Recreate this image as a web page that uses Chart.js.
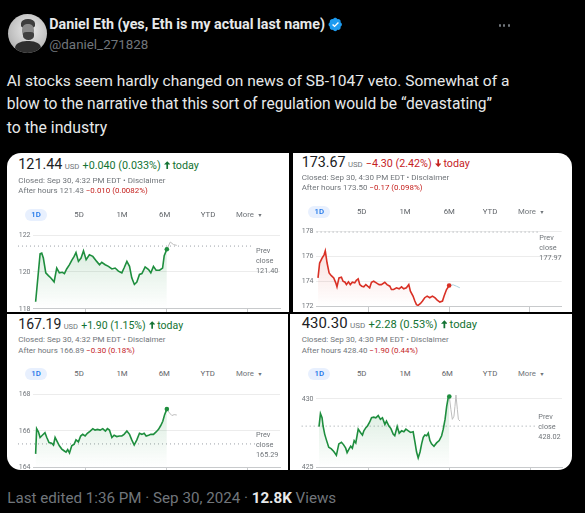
<!DOCTYPE html>
<html><head><meta charset="utf-8">
<script src="https://cdn.jsdelivr.net/npm/chart.js@4.4.1/dist/chart.umd.min.js"></script>
<style>
html,body{margin:0;padding:0;background:#000;}
body{width:585px;height:513px;overflow:hidden;position:relative;}
.t{position:absolute;white-space:nowrap;line-height:1;z-index:3;}
.panel{position:absolute;background:#fff;overflow:hidden;z-index:0;}
.pill{position:absolute;background:#e8f0fe;border-radius:6px;z-index:2;}
.dot{position:absolute;width:2.4px;height:2.4px;border-radius:50%;background:#71767b;}
</style></head><body>

<div style="position:absolute;left:7.5px;top:13.5px;width:39px;height:39px;border-radius:50%;overflow:hidden;background:radial-gradient(circle at 55% 40%,#ececec,#c4c4c4 55%,#9c9c9c);">
  <div style="position:absolute;left:13px;top:5px;width:14px;height:9px;border-radius:50% 50% 30% 30%;background:#3e3e3e"></div>
  <div style="position:absolute;left:14px;top:10px;width:12px;height:15px;border-radius:40% 40% 50% 50%;background:#8a8a8a"></div>
  <div style="position:absolute;left:15px;top:18px;width:11px;height:8px;border-radius:30% 30% 50% 50%;background:#404040"></div>
  <div style="position:absolute;left:7px;top:27px;width:26px;height:16px;border-radius:45% 45% 0 0;background:#2e2e2e"></div>
</div>
<svg style="position:absolute;left:327.5px;top:16.5px" width="15" height="15" viewBox="0 0 22 22"><path fill="#1d9bf0" d="M20.4 11c0-1.4-.8-2.6-2-3.2.4-1.3.1-2.7-.9-3.7s-2.4-1.3-3.7-.9C13.2 2 11.900 1.2 10.6 1.2S8 2 7.4 3.2C6.1 2.8 4.7 3.1 3.7 4.1s-1.3 2.4-.9 3.7C1.6 8.4.8 9.6.8 11s.8 2.6 2 3.2c-.4 1.3-.1 2.7.9 3.7s2.4 1.3 3.7.9c.6 1.2 1.8 2 3.2 2s2.6-.8 3.2-2c1.3.4 2.7.1 3.7-.9s1.3-2.4.9-3.7c1.2-.6 2-1.8 2-3.2z"/><path fill="#fff" d="M9.6 15.2 6 11.6l1.4-1.4 2.2 2.2 5-5 1.4 1.4z"/></svg>
<div class="dot" style="left:498.5px;top:24.3px"></div>
<div class="dot" style="left:503px;top:24.3px"></div>
<div class="dot" style="left:507.5px;top:24.3px"></div>

<div class="panel" id="pA" style="left:7px;top:153px;width:282px;height:159px;border-top-left-radius:14px"></div>
<div class="panel" id="pB" style="left:293px;top:153px;width:279px;height:159px;border-top-right-radius:14px"></div>
<div class="panel" id="pC" style="left:7px;top:314px;width:281px;height:156px;border-bottom-left-radius:14px"></div>
<div class="panel" id="pD" style="left:290px;top:314px;width:282px;height:156px;border-bottom-right-radius:14px"></div>

<script>
// ---------- DATA ----------
const xTicks = [12, 16, 20];
const tabLabels = ['1D', '5D', '1M', '6M', 'YTD'];

// Panel A (121.44)
const aTime = [9.53, 9.75, 9.83, 9.91, 10.03, 10.16, 10.27, 10.44, 10.57, 10.70,
  10.85, 10.95, 11.06, 11.20, 11.31, 11.43, 11.52, 11.64, 11.77, 11.89,
  12.02, 12.18, 12.35, 12.54, 12.68, 12.79, 12.96, 13.12, 13.29, 13.45,
  13.61, 13.78, 13.89, 14.03, 14.16, 14.27, 14.40, 14.52, 14.65, 14.77,
  14.93, 15.10, 15.21, 15.34, 15.47, 15.64, 15.79, 15.87, 16.00];
const aPrice = [118.38, 120.98, 121.02, 120.75, 119.95, 119.80, 119.68, 119.46, 120.21, 119.95,
  119.98, 119.91, 120.16, 120.39, 120.63, 120.84, 121.05, 120.57, 120.75, 121.14,
  120.66, 120.93, 120.84, 120.57, 120.39, 120.52, 120.39, 120.30, 120.16, 120.21,
  120.04, 119.95, 120.21, 120.57, 120.30, 119.68, 119.32, 119.45, 119.86, 119.91,
  120.27, 120.13, 119.95, 120.30, 120.09, 120.09, 120.21, 120.88, 121.23];
const aAfterTime = [16.00, 16.17, 16.33, 16.49];
const aAfterPrice = [121.23, 121.62, 121.48, 121.44];
const aPrev = 121.40;
const aTicks = [118, 120, 122];

// Panel B (173.67)
const bTime = [9.50, 9.58, 9.70, 9.80, 9.86, 9.95, 10.05, 10.16, 10.28, 10.38,
  10.44, 10.54, 10.66, 10.74, 10.84, 10.91, 11.01, 11.10, 11.20, 11.32,
  11.40, 11.49, 11.57, 11.67, 11.77, 11.87, 11.96, 12.06, 12.15, 12.26,
  12.39, 12.53, 12.64, 12.81, 12.92, 13.06, 13.14, 13.25, 13.39, 13.52,
  13.64, 13.75, 13.88, 14.00, 14.08, 14.21, 14.30, 14.38, 14.46, 14.58,
  14.68, 14.79, 14.91, 15.04, 15.17, 15.29, 15.41, 15.54, 15.67, 15.75,
  15.87, 16.00];
const bPrice = [174.27, 175.47, 175.87, 176.13, 176.45, 175.47, 174.67, 174.45, 174.27, 173.87,
  173.55, 174.27, 174.32, 174.00, 173.92, 173.73, 173.95, 173.73, 173.92, 173.87,
  174.08, 174.19, 173.73, 173.60, 173.55, 173.73, 173.60, 173.47, 173.92, 174.00,
  173.87, 173.73, 173.73, 173.92, 173.73, 173.60, 173.33, 173.33, 173.47, 173.39,
  173.55, 173.39, 173.47, 173.73, 173.20, 172.80, 172.40, 172.11, 172.05, 172.21,
  172.40, 172.67, 172.80, 172.67, 172.80, 172.67, 172.48, 172.32, 172.40, 172.80,
  173.33, 173.65];
const bAfterTime = [16.00, 16.20, 16.36, 16.53];
const bAfterPrice = [173.65, 173.71, 173.60, 173.47];
const bPrev = 177.97;
const bTicks = [172, 174, 176, 178];

// Panel C (167.19)
const cTime = [9.53, 9.58, 9.67, 9.75, 9.86, 9.99, 10.08, 10.19, 10.32, 10.41,
  10.49, 10.60, 10.70, 10.82, 10.93, 11.03, 11.11, 11.20, 11.31, 11.43,
  11.52, 11.64, 11.75, 11.85, 11.97, 12.08, 12.22, 12.35, 12.46, 12.58,
  12.71, 12.84, 12.97, 13.07, 13.17, 13.29, 13.40, 13.53, 13.66, 13.78,
  13.89, 14.03, 14.16, 14.27, 14.39, 14.52, 14.65, 14.77, 14.88, 14.98,
  15.10, 15.21, 15.34, 15.47, 15.59, 15.70, 15.80, 15.89, 16.00];
const cPrice = [164.75, 166.12, 165.94, 165.64, 165.76, 165.90, 165.64, 165.37, 165.33, 165.23,
  165.64, 165.40, 165.19, 165.01, 164.92, 164.84, 164.98, 164.80, 165.19, 165.28,
  165.51, 165.40, 165.72, 165.81, 165.72, 165.87, 165.99, 166.12, 166.04, 166.08,
  166.04, 166.12, 165.99, 166.12, 166.04, 165.64, 165.76, 165.69, 165.72, 165.72,
  165.81, 165.99, 165.81, 165.51, 165.23, 165.51, 165.87, 165.81, 165.87, 165.72,
  165.76, 165.81, 165.81, 165.94, 166.08, 166.29, 166.52, 166.88, 167.18];
const cAfterTime = [16.00, 16.13, 16.25, 16.36, 16.49];
const cAfterPrice = [167.18, 166.97, 166.83, 166.88, 166.86];
const cPrev = 165.29;
const cTicks = [164, 166, 168];

// Panel D (430.30)
const dTime = [9.55, 9.62, 9.70, 9.75, 9.83, 9.91, 10.03, 10.16, 10.28, 10.41,
  10.53, 10.66, 10.77, 10.87, 10.94, 11.04, 11.12, 11.20, 11.29, 11.37,
  11.49, 11.60, 11.70, 11.77, 11.87, 11.95, 12.06, 12.15, 12.26, 12.36,
  12.48, 12.59, 12.69, 12.81, 12.89, 13.01, 13.11, 13.22, 13.30, 13.42,
  13.52, 13.64, 13.75, 13.85, 13.97, 14.08, 14.21, 14.30, 14.38, 14.46,
  14.55, 14.63, 14.71, 14.79, 14.88, 14.96, 15.04, 15.12, 15.24, 15.37,
  15.50, 15.62, 15.70, 15.79, 15.87, 15.95, 16.00];
const dPrice = [427.99, 428.93, 428.63, 428.03, 427.44, 427.04, 426.49, 426.37, 426.18, 425.90,
  426.73, 426.85, 426.66, 426.42, 426.09, 426.37, 426.56, 426.42, 426.97, 426.80,
  427.80, 427.56, 427.37, 427.68, 427.91, 428.03, 428.32, 428.63, 428.67, 428.63,
  428.79, 428.51, 428.63, 428.15, 428.39, 428.03, 427.84, 427.44, 427.32, 427.99,
  427.51, 427.68, 427.61, 427.80, 427.68, 427.56, 427.61, 426.85, 426.14, 425.71,
  426.14, 426.73, 427.20, 427.37, 427.32, 427.51, 426.97, 426.73, 426.56, 426.80,
  426.97, 427.32, 427.80, 428.51, 429.45, 430.12, 430.17];
const dAfterTime = [16.00, 16.08, 16.15, 16.23, 16.28, 16.33, 16.40, 16.45, 16.53];
const dAfterPrice = [430.17, 429.22, 428.51, 428.74, 429.45, 430.28, 429.22, 428.51, 428.39];
const dPrev = 428.02;
const dTicks = [425, 430];

// ---------- FONTS / TEXT HELPERS ----------
const gFont = 'Roboto, "Liberation Sans", Arial, sans-serif';
const tFont = '"Segoe UI", Roboto, "Noto Sans", sans-serif';

function addText(x, cy, html, o) {
  const el = document.createElement('div');
  el.className = 't';
  el.innerHTML = html;
  el.style.fontFamily = o.font || gFont;
  el.style.fontSize = o.size + 'px';
  el.style.fontWeight = o.weight || 400;
  el.style.color = o.color || '#70757a';
  el.style.left = '0px'; el.style.top = '0px';
  document.body.appendChild(el);
  let size = o.size;
  if (o.w) {
    const w0 = el.getBoundingClientRect().width;
    size = size * o.w / w0;
    el.style.fontSize = size + 'px';
  }
  const w = el.getBoundingClientRect().width;
  el.style.left = (o.align === 'center' ? x - w / 2 : x) + 'px';
  el.style.top = (cy - size / 2) + 'px';
  return el;
}

function headline(price, change, up) {
  const col = up ? '#137333' : '#c5221f';
  const path = up ? 'M5 0L10 5.2H6.3V12H3.7V5.2H0Z' : 'M5 12L10 6.8H6.3V0H3.7V6.8H0Z';
  const arrow = '<svg width="0.6em" height="0.75em" viewBox="0 0 10 12" style="vertical-align:-0.02em;margin:0 0.2em 0 0.3em"><path d="' + path + '" fill="' + col + '"/></svg>';
  return '<span style="color:#202124">' + price + '</span>' +
    '<span style="font-size:0.54em;color:#70757a;margin-left:0.3em">USD</span>' +
    '<span style="font-size:0.75em;color:' + col + ';margin-left:0.3em">' + change + arrow + 'today</span>';
}

// ---------- TWEET TEXT ----------
addText(49.3, 24, 'Daniel Eth (yes, Eth is my actual last name)', {font: tFont, size: 15, weight: 700, color: '#e7e9ea', w: 276});
addText(49.3, 45, '@daniel_271828', {font: tFont, size: 15, color: '#71767b', w: 99});
addText(6.7, 81.7, 'AI stocks seem hardly changed on news of SB-1047 veto. Somewhat of a', {font: tFont, size: 17, color: '#e7e9ea', w: 503});
addText(6.7, 105, 'blow to the narrative that this sort of regulation would be “devastating”', {font: tFont, size: 17, color: '#e7e9ea', w: 486});
addText(6.7, 128.3, 'to the industry', {font: tFont, size: 17, color: '#e7e9ea', w: 100.6});
addText(7.3, 498.3, 'Last edited 1:36 PM · Sep 30, 2024 · <b style="color:#e7e9ea">12.8K</b> Views', {font: tFont, size: 15, color: '#71767b', w: 329.4});

// ---------- PANEL LAYOUT ----------
const panels = [
  {id: 'pA', box: [7, 153, 282, 159], canvasTop: 226, yW: 26, padR: 9, padT: 9, xH: 3.2, yMin: 118, yMax: 122,
   xMin: 9.4, xMax: 21.58, prevSpan: [8.66, 20.25], tx: 18.3,
   row1: [163.8, 180.7], row2: [180.7, 147.4], row3: [191.3, 129.7],
   tabY: 215, tabX: [36, 79, 122, 164.7, 208], moreX: 236, pill: [25, 209, 22, 12],
   prevX: 256, prevY: [250.7, 260.7, 270.7],
   price: '121.44', change: '+0.040 (0.033%)', up: true,
   closed: 'Closed: Sep 30, 4:32 PM EDT • Disclaimer', after: 'After hours 121.43 ', afterChg: '−0.010 (0.0082%)',
   prevLabel: '121.40', afterColor: '#bdbdbd',
   time: aTime, priceData: aPrice, afterTime: aAfterTime, afterPrice: aAfterPrice, prev: aPrev, ticks: aTicks},
  {id: 'pB', box: [293, 153, 279, 159], canvasTop: 223, yW: 23, padR: 10.3, padT: 8.7, xH: 6, yMin: 172, yMax: 178,
   xMin: 9.4, xMax: 21.58, prevSpan: [9.43, 20.42], tx: 301.7,
   row1: [161.8, 168.3], row2: [178.3, 147.6], row3: [188.3, 121],
   tabY: 212.3, tabX: [319.3, 361.7, 405, 449.3, 490], moreX: 518, pill: [308.3, 206.3, 21.7, 12],
   prevX: 539.3, prevY: [237.3, 247.3, 257.3],
   price: '173.67', change: '−4.30 (2.42%)', up: false,
   closed: 'Closed: Sep 30, 4:30 PM EDT • Disclaimer', after: 'After hours 173.50 ', afterChg: '−0.17 (0.098%)',
   prevLabel: '177.97', afterColor: '#a9d2de',
   time: bTime, priceData: bPrice, afterTime: bAfterTime, afterPrice: bAfterPrice, prev: bPrev, ticks: bTicks},
  {id: 'pC', box: [7, 314, 281, 156], canvasTop: 385, yW: 26, padR: 8, padT: 9, xH: 1, yMin: 164, yMax: 168,
   xMin: 9.4, xMax: 21.58, prevSpan: [8.66, 20.35], tx: 18.3,
   row1: [323.8, 165], row2: [340, 147.4], row3: [350.7, 116.7],
   tabY: 374.3, tabX: [36, 79, 122, 164.3, 207.7], moreX: 236, pill: [25, 368.3, 22, 12],
   prevX: 256, prevY: [434.7, 445, 455],
   price: '167.19', change: '+1.90 (1.15%)', up: true,
   closed: 'Closed: Sep 30, 4:32 PM EDT • Disclaimer', after: 'After hours 166.89 ', afterChg: '−0.30 (0.18%)',
   prevLabel: '165.29', afterColor: '#bdbdbd',
   time: cTime, priceData: cPrice, afterTime: cAfterTime, afterPrice: cAfterPrice, prev: cPrev, ticks: cTicks},
  {id: 'pD', box: [290, 314, 282, 156], canvasTop: 383, yW: 26, padR: 10, padT: 9, xH: 0.7, yMin: 425, yMax: 430.5,
   xMin: 9.4, xMax: 21.58, prevSpan: [8.69, 20.33], tx: 301.7,
   row1: [323.8, 175.6], row2: [340, 147.3], row3: [350.7, 116.6],
   tabY: 374.3, tabX: [319.3, 361.7, 405, 447.3, 490], moreX: 518, pill: [308.3, 368.3, 21.7, 12],
   prevX: 538.3, prevY: [416.7, 426.7, 436.7],
   price: '430.30', change: '+2.28 (0.53%)', up: true,
   closed: 'Closed: Sep 30, 4:30 PM EDT • Disclaimer', after: 'After hours 428.40 ', afterChg: '−1.90 (0.44%)',
   prevLabel: '428.02', afterColor: '#bdbdbd',
   time: dTime, priceData: dPrice, afterTime: dAfterTime, afterPrice: dAfterPrice, prev: dPrev, ticks: dTicks}
];

function drawPanel(P) {
  // texts
  addText(P.tx, P.row1[0], headline(P.price, P.change, P.up), {size: 14, w: P.row1[1]});
  addText(P.tx, P.row2[0], P.closed, {size: 7.5, color: '#70757a', w: P.row2[1]});
  addText(P.tx, P.row3[0], P.after + '<span style="color:#c5221f">' + P.afterChg + '</span>', {size: 7.5, color: '#70757a', w: P.row3[1]});
  const pill = document.createElement('div');
  pill.className = 'pill';
  pill.style.cssText = 'left:' + P.pill[0] + 'px;top:' + P.pill[1] + 'px;width:' + P.pill[2] + 'px;height:' + P.pill[3] + 'px';
  document.body.appendChild(pill);
  tabLabels.forEach((lab, i) => {
    addText(P.tabX[i], P.tabY, lab, {size: 7.8, weight: i === 0 ? 500 : 400, color: i === 0 ? '#1a73e8' : '#5f6368', align: 'center'});
  });
  addText(P.moreX, P.tabY, 'More<span style="font-size:0.7em;margin-left:0.6em;vertical-align:0.1em">▼</span>', {size: 7.8, color: '#70757a'});
  ['Prev', 'close', P.prevLabel].forEach((s, i) => addText(P.prevX, P.prevY[i], s, {size: 7.3, color: '#70757a'}));

  // chart
  const host = document.getElementById(P.id);
  const cv = document.createElement('canvas');
  const cw = P.box[2], ch = P.box[1] + P.box[3] - P.canvasTop;
  cv.width = cw; cv.height = ch;
  cv.style.cssText = 'position:absolute;left:0;top:' + (P.canvasTop - P.box[1]) + 'px;width:' + cw + 'px;height:' + ch + 'px';
  host.appendChild(cv);
  const col = P.up ? '#1e8e3e' : '#d93025';
  const rgb = P.up ? '30,142,62' : '217,48,37';
  const last = P.time.length - 1;
  new Chart(cv, {
    type: 'line',
    data: {datasets: [
      {data: P.time.map((t, i) => ({x: t, y: P.priceData[i]})), borderColor: col, borderWidth: 1.6,
       pointRadius: c => (c.dataIndex === last ? 2.3 : 0), pointBackgroundColor: col, pointBorderWidth: 0, pointHoverRadius: 0,
       fill: 'start', tension: 0, order: 1,
       backgroundColor: c => {
         const area = c.chart.chartArea;
         if (!area) return 'rgba(0,0,0,0)';
         const g = c.chart.ctx.createLinearGradient(0, area.top, 0, area.bottom);
         g.addColorStop(0, 'rgba(' + rgb + ',0.20)');
         g.addColorStop(1, 'rgba(' + rgb + ',0.0)');
         return g;
       }},
      {data: P.afterTime.map((t, i) => ({x: t, y: P.afterPrice[i]})), borderColor: P.afterColor, borderWidth: 1,
       pointRadius: 0, fill: false, tension: 0, order: 2},
      {data: [{x: P.prevSpan[0], y: P.prev}, {x: P.prevSpan[1], y: P.prev}], borderColor: '#9aa0a6', borderWidth: 1,
       borderDash: [1, 3], pointRadius: 0, fill: false, clip: false, order: 3}
    ]},
    options: {
      responsive: false, animation: false, events: [],
      layout: {padding: {left: 0, top: P.padT, right: P.padR, bottom: 0}},
      plugins: {legend: {display: false}, tooltip: {enabled: false}},
      scales: {
        x: {type: 'linear', min: P.xMin, max: P.xMax,
            afterBuildTicks: a => { a.ticks = xTicks.map(v => ({value: v})); },
            afterFit: a => { a.height = P.xH; a.paddingLeft = 0; a.paddingRight = 0; },
            ticks: {display: false},
            grid: {drawOnChartArea: false, drawTicks: true, tickLength: 10, color: '#c8cacc', lineWidth: 1},
            border: {display: true, color: '#c8cacc', width: 1}},
        y: {type: 'linear', min: P.yMin, max: P.yMax,
            afterBuildTicks: a => { a.ticks = P.ticks.map(v => ({value: v})); },
            afterFit: a => { a.width = P.yW; a.paddingTop = 0; a.paddingBottom = 0; },
            ticks: {padding: 2.5, color: '#70757a', font: {family: gFont, size: 7}},
            grid: {color: '#ececec', drawTicks: false, lineWidth: 1},
            border: {display: false}}
      }
    }
  });
}
panels.forEach(drawPanel);
</script>
</body></html>
